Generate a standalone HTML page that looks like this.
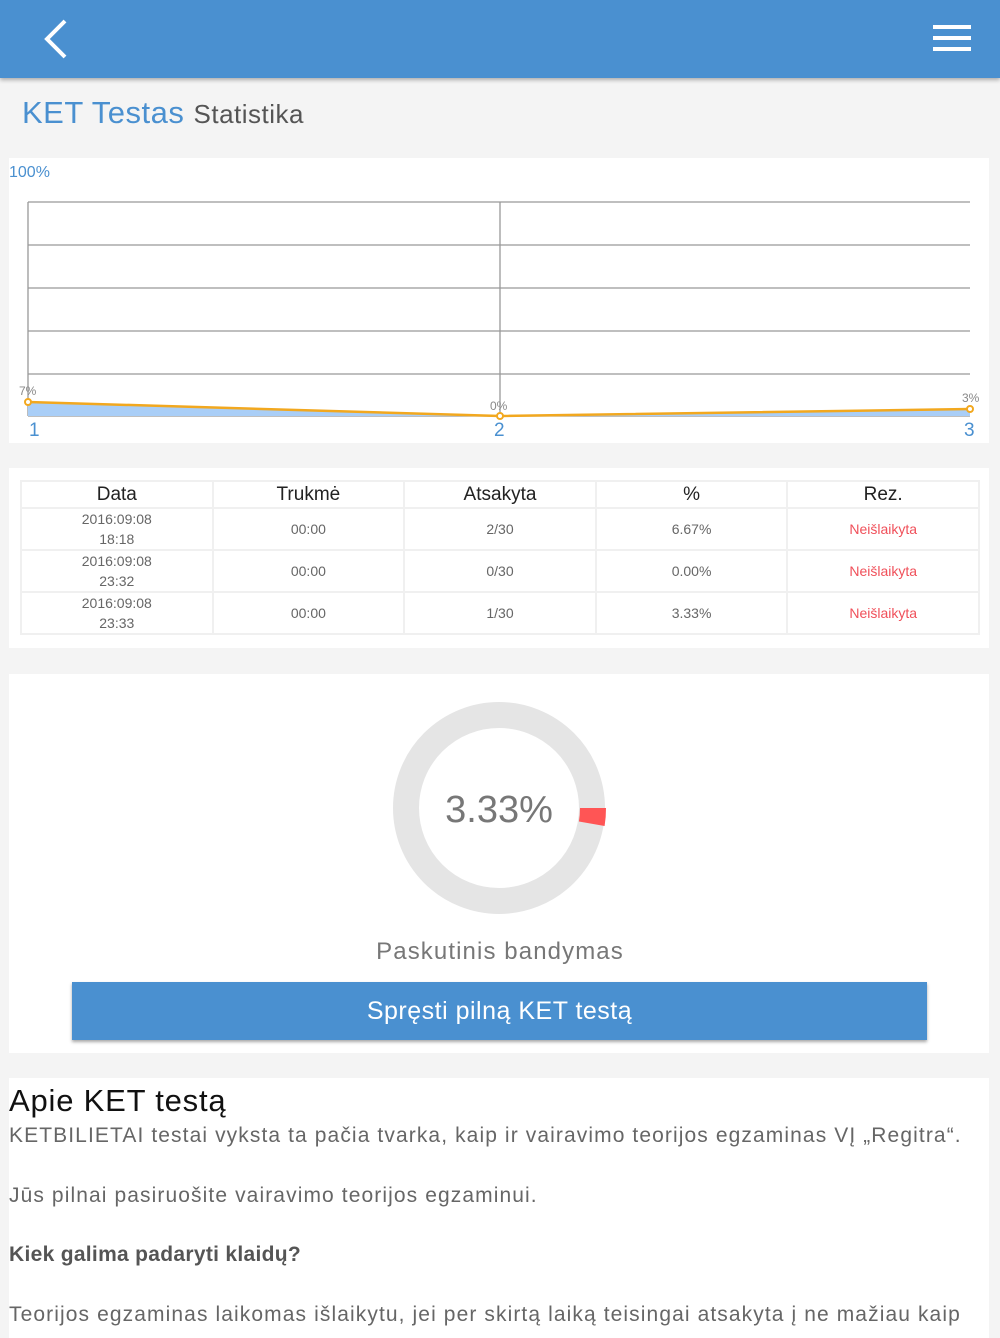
<!DOCTYPE html>
<html><head><meta charset="utf-8"><style>
body{margin:0;width:1000px;height:1334px;background:#f4f4f4;font-family:"Liberation Sans",sans-serif;position:relative;overflow:hidden}
.a{position:absolute}
.p{position:absolute;background:#fff;left:9px;width:980px}
table{border-collapse:separate;border-spacing:2px;position:absolute;left:20px;top:480px;width:960px;background:#f0f0f0;table-layout:fixed}
td{background:#fff;text-align:center;color:#666;font-size:14px;height:40px;line-height:20px;padding:0}
th{background:#fff;font-weight:normal;font-size:19px;color:#222;height:25px;padding:0}
.r{color:#f0505a}
.t{letter-spacing:1.1px}
</style></head><body>
<div class="a" style="left:0;top:0;width:1000px;height:78px;background:#4a90d0;box-shadow:0 2px 4px rgba(0,0,0,.3)"></div>
<svg class="a" style="left:0;top:0" width="1000" height="80">
<polyline points="65,21 47,39 65,57" fill="none" stroke="#fff" stroke-width="4"/>
<rect x="933" y="25" width="38" height="4" fill="#fff"/><rect x="933" y="36" width="38" height="4" fill="#fff"/><rect x="933" y="47" width="38" height="4" fill="#fff"/>
</svg>
<div class="a" style="left:22px;top:95px;font-size:31px;color:#4a90d0;letter-spacing:.5px">KET Testas <span style="font-size:26px;color:#555">Statistika</span></div>
<div class="p" style="top:158px;height:285px"></div>
<svg class="a" style="left:0;top:158px" width="1000" height="285">
<text x="9" y="19" font-size="16" fill="#4a90d0" font-family="Liberation Sans">100%</text>
<g stroke="#999" stroke-width="1.3" fill="none">
<line x1="28" y1="44" x2="970" y2="44"/><line x1="28" y1="87" x2="970" y2="87"/><line x1="28" y1="130" x2="970" y2="130"/><line x1="28" y1="173" x2="970" y2="173"/><line x1="28" y1="216" x2="970" y2="216"/>
<line x1="28" y1="44" x2="28" y2="258"/><line x1="500" y1="44" x2="500" y2="258"/><line x1="28" y1="258" x2="970" y2="258"/></g>
<polygon points="28,244 500,258 970,251 970,258 28,258" fill="#a9cef7"/>
<polyline points="28,244 500,258 970,251" fill="none" stroke="#f2a81f" stroke-width="2.5"/>
<g fill="#fff" stroke="#f2a81f" stroke-width="2"><circle cx="28" cy="244" r="3"/><circle cx="500" cy="258" r="3"/><circle cx="970" cy="251" r="3"/></g>
<g font-size="12" fill="#888" font-family="Liberation Sans"><text x="19" y="237">7%</text><text x="490" y="252">0%</text><text x="962" y="244">3%</text></g>
<g font-size="19" fill="#4a90d0" font-family="Liberation Sans"><text x="29" y="278">1</text><text x="494" y="278">2</text><text x="964" y="278">3</text></g>
</svg>
<div class="p" style="top:468px;height:180px"></div>
<table><tr><th>Data</th><th>Trukmė</th><th>Atsakyta</th><th>%</th><th>Rez.</th></tr>
<tr><td>2016:09:08<br>18:18</td><td>00:00</td><td>2/30</td><td>6.67%</td><td class="r">Neišlaikyta</td></tr>
<tr><td>2016:09:08<br>23:32</td><td>00:00</td><td>0/30</td><td>0.00%</td><td class="r">Neišlaikyta</td></tr>
<tr><td>2016:09:08<br>23:33</td><td>00:00</td><td>1/30</td><td>3.33%</td><td class="r">Neišlaikyta</td></tr></table>
<div class="p" style="top:674px;height:379px"></div>
<svg class="a" style="left:0;top:674px" width="1000" height="300">
<circle cx="499" cy="134" r="93" fill="none" stroke="#e5e5e5" stroke-width="26"/>
<path d="M606,134 A107,107 0 0 1 604.6,152 L578.9,147.5 A81,81 0 0 0 580,134 Z" fill="#f55"/>
<text x="499" y="148" text-anchor="middle" font-size="38" fill="#777" font-family="Liberation Sans">3.33%</text>
</svg>
<div class="a t" style="left:0;width:1000px;top:938px;text-align:center;font-size:24px;color:#777">Paskutinis bandymas</div>
<div class="a" style="left:72px;top:982px;width:855px;height:58px;background:#4a90d0;box-shadow:0 2px 3px rgba(0,0,0,.35);color:#fff;font-size:25px;text-align:center;line-height:58px;letter-spacing:.5px">Spręsti pilną KET testą</div>
<div class="p" style="top:1078px;height:260px"></div>
<div class="a" style="left:9px;top:1083px;font-size:31px;color:#111;letter-spacing:.8px">Apie KET testą</div>
<div class="a t" style="left:9px;top:1124px;font-size:21px;color:#666;line-height:24px;white-space:nowrap">KETBILIETAI testai vyksta ta pačia tvarka, kaip ir vairavimo teorijos egzaminas VĮ „Regitra“.</div>
<div class="a t" style="left:9px;top:1184px;font-size:21px;color:#666">Jūs pilnai pasiruošite vairavimo teorijos egzaminui.</div>
<div class="a" style="left:9px;top:1243px;font-size:21px;color:#555;font-weight:bold;letter-spacing:.3px">Kiek galima padaryti klaidų?</div>
<div class="a t" style="left:9px;top:1303px;font-size:21px;color:#666;white-space:nowrap">Teorijos egzaminas laikomas išlaikytu, jei per skirtą laiką teisingai atsakyta į ne mažiau kaip</div>
</body></html>
